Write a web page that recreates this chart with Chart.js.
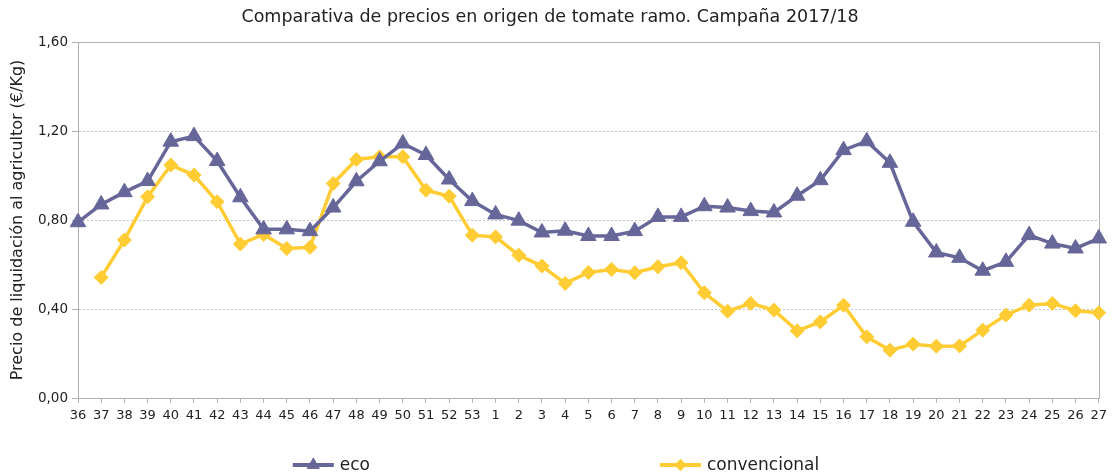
<!DOCTYPE html>
<html>
<head>
<meta charset="utf-8">
<script src="https://cdn.jsdelivr.net/npm/chart.js@4/dist/chart.umd.min.js"></script>
<style>
  html, body { margin: 0; padding: 0; background: #ffffff; }
  #wrap { width: 1112px; height: 475px; }
</style>
</head>
<body>
<div id="wrap"><canvas id="chart" width="1112" height="475"></canvas></div>
<script>
// weeks of the 2017/18 campaign
const weeks = [
  '36', '37', '38', '39', '40', '41', '42', '43', '44', '45', '46', '47', '48', '49', '50', '51', '52', '53',
  '1', '2', '3', '4', '5', '6', '7', '8', '9', '10', '11', '12', '13', '14', '15', '16', '17', '18', '19',
  '20', '21', '22', '23', '24', '25', '26', '27',
]

// €/Kg
const eco = [
  0.79, 0.87, 0.925, 0.975, 1.152, 1.177, 1.065, 0.902, 0.758, 0.758, 0.75, 0.856, 0.974, 1.064, 1.144, 1.092, 0.982, 0.885,
  0.825, 0.797, 0.744, 0.752, 0.728, 0.728, 0.75, 0.814, 0.814, 0.862, 0.856, 0.84, 0.834, 0.909, 0.979, 1.114, 1.154, 1.057, 0.792,
  0.654, 0.63, 0.572, 0.612, 0.732, 0.694, 0.672, 0.717,
]
const convencional = [
  null, 0.542, 0.71, 0.904, 1.047, 1.002, 0.882, 0.692, 0.735, 0.672, 0.677, 0.964, 1.072, 1.084, 1.084, 0.934, 0.907, 0.732,
  0.724, 0.642, 0.593, 0.515, 0.564, 0.578, 0.563, 0.59, 0.608, 0.473, 0.39, 0.425, 0.395, 0.302, 0.342, 0.417, 0.275, 0.215, 0.242,
  0.233, 0.234, 0.305, 0.373, 0.417, 0.425, 0.392, 0.383,
]

const yTickLabels = ['0,00', '0,40', '0,80', '1,20', '1,60']

const TITLE = 'Comparativa de precios en origen de tomate ramo. Campaña 2017/18'
const Y_TITLE = 'Precio de liquidación al agricultor (€/Kg)'
const FONT = 'DejaVu Sans'
const ECO_COLOR = '#666699'
const CONV_COLOR = '#ffcc33'
const AXIS_COLOR = '#b0b0b0'

// solid frame round the plot area (top/right edges)
const frame = {
  id: 'frame',
  beforeDatasetsDraw(chart) {
    const { ctx, chartArea: a } = chart
    ctx.save()
    ctx.strokeStyle = AXIS_COLOR
    ctx.lineWidth = 1
    ctx.strokeRect(Math.round(a.left) + 0.5, Math.round(a.top) + 0.5, Math.round(a.right - a.left), Math.round(a.bottom - a.top))
    ctx.restore()
  },
}

/**
 * @param {CanvasRenderingContext2D} ctx
 * @param {any} ds
 * @param {number} x0
 * @param {number} y
 * @param {number} len
 */
function drawLegendMarker(ctx, ds, x0, y, len) {
  ctx.save()
  ctx.strokeStyle = ds.borderColor
  ctx.lineWidth = 4
  ctx.beginPath()
  ctx.moveTo(x0, y)
  ctx.lineTo(x0 + len, y)
  ctx.stroke()
  ctx.fillStyle = ds.borderColor
  const r = ds.pointStyle === 'triangle' ? 7.5 : 6
  Chart.helpers.drawPoint(ctx, { pointStyle: ds.pointStyle, rotation: 0, radius: r, borderWidth: 0 }, x0 + len / 2, y)
  ctx.fill()
  ctx.restore()
}

// legend with wide spacing between entries, like the source
const wideLegend = {
  id: 'wideLegend',
  afterDraw(chart) {
    const { ctx } = chart
    const markerLen = 41
    const gap = 6
    const between = 290
    const y = 465
    ctx.save()
    ctx.font = `17px "${FONT}"`
    const items = chart.data.datasets.map((ds) => ({ ds, w: markerLen + gap + ctx.measureText(ds.label).width }))
    const total = items.reduce((s, it) => s + it.w, 0) + between * (items.length - 1)
    let x = (chart.width - total) / 2
    for (const it of items) {
      drawLegendMarker(ctx, it.ds, x, y, markerLen)
      ctx.fillStyle = '#222222'
      ctx.textBaseline = 'middle'
      ctx.textAlign = 'left'
      ctx.fillText(it.ds.label, x + markerLen + gap, y + 1)
      x += it.w + between
    }
    ctx.restore()
  },
}

new Chart(document.getElementById('chart'), {
  type: 'line',
  data: {
    labels: weeks,
    datasets: [
      {
        label: 'eco',
        data: eco,
        borderColor: ECO_COLOR,
        backgroundColor: ECO_COLOR,
        borderWidth: 3.5,
        pointStyle: 'triangle',
        pointRadius: 9,
        pointBorderWidth: 1,
        tension: 0,
      },
      {
        label: 'convencional',
        data: convencional,
        borderColor: CONV_COLOR,
        backgroundColor: CONV_COLOR,
        borderWidth: 3.5,
        pointStyle: 'rectRot',
        pointRadius: 7,
        pointBorderWidth: 1,
        tension: 0,
      },
    ],
  },
  plugins: [frame, wideLegend],
  options: {
    responsive: false,
    animation: false,
    layout: { padding: { left: 0, right: 12, top: 0, bottom: 47 } },
    scales: {
      x: {
        offset: false,
        grid: { drawOnChartArea: false, drawTicks: true, tickLength: 5, color: AXIS_COLOR },
        border: { color: AXIS_COLOR },
        ticks: {
          autoSkip: false,
          maxRotation: 0,
          padding: 5,
          color: '#222222',
          font: { family: FONT, size: 13 },
        },
        afterFit: (scale) => { scale.height = 30 },
      },
      y: {
        min: 0,
        max: 1.6,
        grid: { color: '#c4c4c4', tickColor: AXIS_COLOR, tickLength: 6, tickBorderDash: [] },
        border: { color: AXIS_COLOR, dash: [2, 2] },
        ticks: {
          stepSize: 0.4,
          padding: 4,
          color: '#222222',
          font: { family: FONT, size: 13.5 },
          callback: (v) => yTickLabels[Math.round(Number(v) / 0.4)] ?? '',
        },
        title: {
          display: true,
          text: Y_TITLE,
          color: '#222222',
          font: { family: FONT, size: 16 },
          padding: { top: 8, bottom: 4 },
        },
        afterFit: (scale) => { scale.width = 78 },
      },
    },
    plugins: {
      legend: { display: false },
      title: {
        display: true,
        text: TITLE,
        color: '#222222',
        font: { family: FONT, size: 17.5, weight: 'normal' },
        padding: { top: 7, bottom: 14 },
      },
      tooltip: { enabled: false },
    },
  },
})
</script>
</body>
</html>
